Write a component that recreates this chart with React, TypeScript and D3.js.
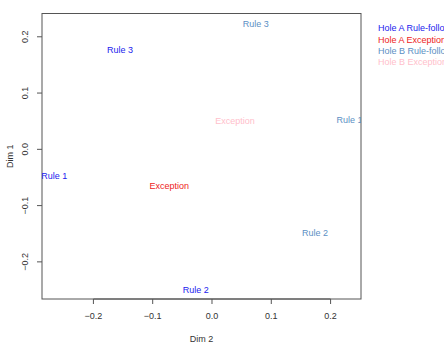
import React from 'react';
import * as d3 from 'd3';

const labels = ['Rule 1', 'Rule 3', 'Rule 2', 'Exception', 'Rule 3', 'Rule 1', 'Rule 2', 'Exception'];
const groups = ['A', 'A', 'A', 'AE', 'B', 'B', 'B', 'BE'];
const dim2 = [-0.266, -0.155, -0.0275, -0.072, 0.0737, 0.232, 0.1737, 0.0388];
const dim1 = [-0.047, 0.177, -0.249, -0.065, 0.223, 0.052, -0.148, 0.051];

const legendLabels = ['Hole A Rule-following', 'Hole A Exception', 'Hole B Rule-following', 'Hole B Exception'];
const legendKeys = ['A', 'AE', 'B', 'BE'];
const colors: Record<string, string> = { A: '#2222ee', AE: '#ee2222', B: '#5b8fc4', BE: '#ffc0cb' };

const xTicks = [-0.2, -0.1, 0.0, 0.1, 0.2];
const yTicks = [-0.2, -0.1, 0.0, 0.1, 0.2];

const App = () => {
  const left = 42, right = 361, top = 13.5, bottom = 299;
  const x = d3.scaleLinear().domain([-0.2867, 0.2513]).range([left, right]);
  const y = d3.scaleLinear().domain([-0.266, 0.2414]).range([bottom, top]);
  const font = 'Liberation Sans, Arial, sans-serif';

  return (
    <svg width={444} height={348} style={{ position: 'absolute', left: 0, top: 0 }} fontFamily={font}>
      <defs>
        <clipPath id="plotclip">
          <rect x={left} y={top} width={right - left} height={bottom - top} />
        </clipPath>
      </defs>
      <rect width={444} height={348} fill="white" />
      <rect x={left} y={top} width={right - left} height={bottom - top} fill="none" stroke="#555" strokeWidth={1} />

      {/* x axis */}
      <line x1={x(-0.2)} x2={x(0.2)} y1={bottom} y2={bottom} stroke="#555" />
      {xTicks.map(t => (
        <g key={'x' + t}>
          <line x1={x(t)} x2={x(t)} y1={bottom} y2={bottom + 5} stroke="#555" />
          <text x={x(t)} y={bottom + 20} fontSize={9} textAnchor="middle" fill="#333">{d3.format('.1f')(t)}</text>
        </g>
      ))}
      <text x={(left + right) / 2} y={342} fontSize={9} textAnchor="middle" fill="#333">Dim 2</text>

      {/* y axis */}
      {yTicks.map(t => (
        <g key={'y' + t}>
          <line x1={left - 5} x2={left} y1={y(t)} y2={y(t)} stroke="#555" />
          <text transform={`translate(28,${y(t)}) rotate(-90)`} fontSize={9} textAnchor="middle" fill="#333">{d3.format('.1f')(t)}</text>
        </g>
      ))}
      <text transform={`translate(13,${(top + bottom) / 2}) rotate(-90)`} fontSize={9} textAnchor="middle" fill="#333">Dim 1</text>

      <g clipPath="url(#plotclip)">
        {labels.map((l, i) => (
          <text key={i} x={x(dim2[i])} y={y(dim1[i])} dy="0.35em" fontSize={9} textAnchor="middle" fill={colors[groups[i]]}>{l}</text>
        ))}
      </g>

      {legendLabels.map((l, i) => (
        <text key={l} x={378} y={28.3 + i * 11.1} dy="0.35em" fontSize={9} fill={colors[legendKeys[i]]}>{l}</text>
      ))}
    </svg>
  );
};

export default App;
